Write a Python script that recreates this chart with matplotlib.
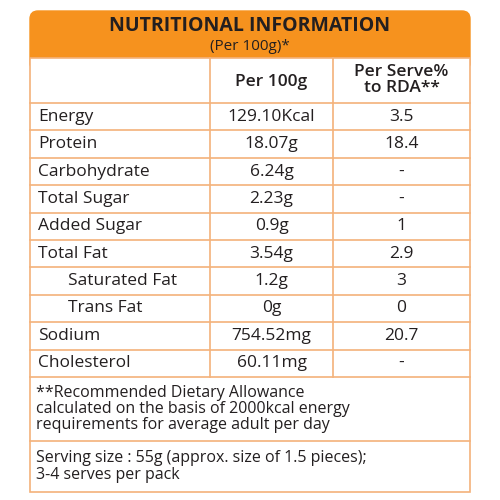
import matplotlib.pyplot as plt
from matplotlib.patches import FancyBboxPatch, Rectangle

plt.rcParams['font.family'] = ['Open Sans', 'DejaVu Sans']

ORANGE = '#F6921E'
LINE = '#F4B27A'
TEXT = '#231F20'

nutrients = ['Energy', 'Protein', 'Carbohydrate', 'Total Sugar', 'Added Sugar',
             'Total Fat', 'Saturated Fat', 'Trans Fat', 'Sodium', 'Cholesterol']
indented = ['Saturated Fat', 'Trans Fat']
per_100g = ['129.10Kcal', '18.07g', '6.24g', '2.23g', '0.9g',
            '3.54g', '1.2g', '0g', '754.52mg', '60.11mg']
per_serve = ['3.5', '18.4', '-', '-', '1', '2.9', '3', '0', '20.7', '-']

footnote = ('**Recommended Dietary Allowance\n'
            'calculated on the basis of 2000kcal energy\n'
            'requirements for average adult per day')
serving = ('Serving size : 55g (approx. size of 1.5 pieces);\n'
           '3-4 serves per pack')

fig = plt.figure(figsize=(5, 5), dpi=100)
ax = fig.add_axes([0, 0, 1, 1])
ax.set_xlim(0, 500)
ax.set_ylim(500, 0)
ax.axis('off')

left, right = 30, 470
col1, col2 = 210, 333
top, head_bot = 11, 58
hdr_bot = 103
row_h = 27.4
tbl_bot = hdr_bot + row_h * len(nutrients)
foot_bot = 441
box_bot = 492

# orange header with rounded top
ax.add_patch(FancyBboxPatch((left, top), right - left, 60, boxstyle='round,pad=0,rounding_size=8',
                            fc=ORANGE, ec=ORANGE, lw=1))
ax.add_patch(Rectangle((left, head_bot), right - left, box_bot - head_bot, fc='white', ec=LINE, lw=1.2))
ax.text(250, 26, 'NUTRITIONAL INFORMATION', ha='center', va='center', fontsize=14,
        fontweight='bold', color=TEXT)
ax.text(250, 46, '(Per 100g)*', ha='center', va='center', fontsize=11, color=TEXT)

ax.plot([col1, col1], [head_bot, tbl_bot], color=LINE, lw=1.2)
ax.plot([col2, col2], [head_bot, tbl_bot], color=LINE, lw=1.2)
ax.plot([left, right], [hdr_bot, hdr_bot], color=LINE, lw=1.2)
ax.text((col1 + col2) / 2, 82, 'Per 100g', ha='center', va='center', fontsize=12.5,
        fontweight='semibold', color=TEXT)
ax.text((col2 + right) / 2, 80, 'Per Serve%\nto RDA**', ha='center', va='center', fontsize=12.5,
        fontweight='semibold', color=TEXT, linespacing=0.95)

for i, (name, v1, v2) in enumerate(zip(nutrients, per_100g, per_serve)):
    y0 = hdr_bot + i * row_h
    yc = y0 + row_h / 2
    ax.plot([left, right], [y0 + row_h, y0 + row_h], color=LINE, lw=1.2)
    x = 68 if name in indented else 38
    ax.text(x, yc, name, ha='left', va='center', fontsize=12.5, color=TEXT)
    ax.text((col1 + col2) / 2, yc, v1, ha='center', va='center', fontsize=12.5, color=TEXT)
    ax.text((col2 + right) / 2, yc, v2, ha='center', va='center', fontsize=12.5, color=TEXT)

ax.text(36, (tbl_bot + foot_bot) / 2, footnote, ha='left', va='center', fontsize=11.5,
        color=TEXT, linespacing=1.0)
ax.plot([left, right], [foot_bot, foot_bot], color=LINE, lw=1.2)
ax.text(36, (foot_bot + box_bot) / 2, serving, ha='left', va='center', fontsize=11.5,
        color=TEXT, linespacing=1.05)

fig.savefig('out.png', dpi=100)
